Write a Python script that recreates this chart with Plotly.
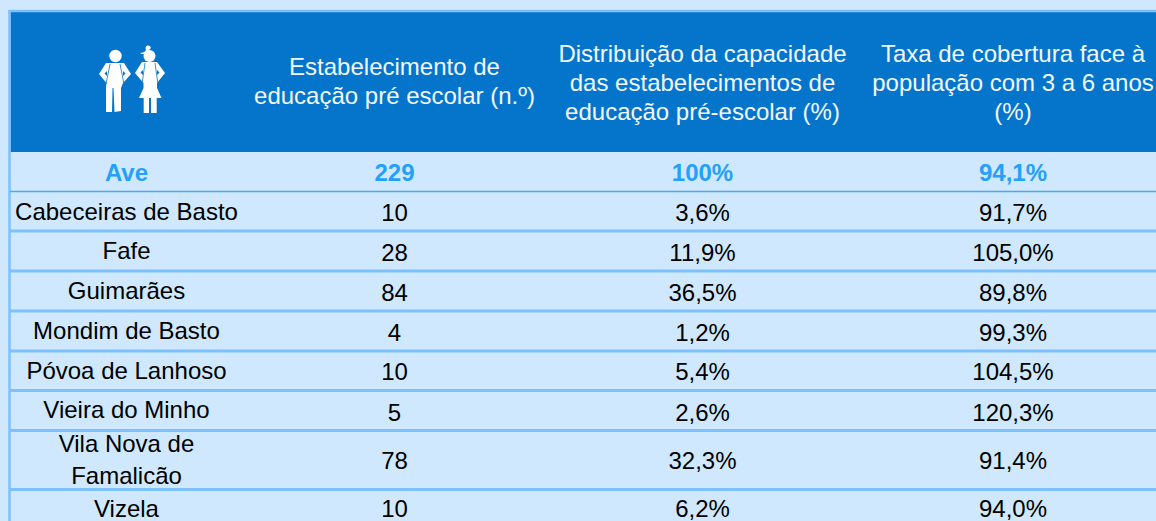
import plotly.graph_objects as go

BG = "#CFE8FD"
HEAD = "#0575CC"
LINE = "#7CC1FB"
ACC = "#24A0FA"
FS = 24

headers = ["Estabelecimento de<br>educação pré escolar (n.º)",
           "Distribuição da capacidade<br>das estabelecimentos de<br>educação pré-escolar (%)",
           "Taxa de cobertura face à<br>população com 3 a 6 anos<br>(%)"]
total_row = ["Ave", "229", "100%", "94,1%"]
territories = ["Cabeceiras de Basto", "Fafe", "Guimarães", "Mondim de Basto", "Póvoa de Lanhoso",
               "Vieira do Minho", "Vila Nova de<br>Famalicão", "Vizela"]
establishments = ["10", "28", "84", "4", "10", "5", "78", "10"]
capacity = ["3,6%", "11,9%", "36,5%", "1,2%", "5,4%", "2,6%", "32,3%", "6,2%"]
coverage = ["91,7%", "105,0%", "89,8%", "99,3%", "104,5%", "120,3%", "91,4%", "94,0%"]

# layout in pixels
col_x = [126.5, 394.5, 702.5, 1013]
head_line_y = [[69, 98], [56, 85, 114], [56, 85, 114]]
total_y = 174.5
name_y = [214, 253, 293, 333, 373, 412, 462, 511]
val_y = [215, 255, 295, 335, 374, 415, 463, 511]
row_lines = [231, 271, 311, 351, 390.5, 430.5, 489.5]

fig = go.Figure()
for cx, head, ys in zip(col_x[1:], headers, head_line_y):
    fig.add_trace(go.Scatter(x=[cx]*len(ys), y=ys, text=head.split("<br>"), mode="text",
                             textposition="middle center",
                             textfont=dict(family="Liberation Sans", size=FS, color="#F2F8FE"), hoverinfo="skip"))
fig.add_trace(go.Scatter(x=col_x, y=[total_y]*4, text=[f"<b>{t}</b>" for t in total_row], mode="text",
                         textposition="middle center",
                         textfont=dict(family="Liberation Sans", size=FS, color=ACC), hoverinfo="skip"))
fig.add_trace(go.Scatter(x=[col_x[0]]*8, y=name_y, text=territories, mode="text", textposition="middle center",
                         textfont=dict(family="Liberation Sans", size=FS, color="#000000"), hoverinfo="skip"))
for cx, vals in zip(col_x[1:], [establishments, capacity, coverage]):
    fig.add_trace(go.Scatter(x=[cx]*8, y=val_y, text=vals, mode="text", textposition="middle center",
                             textfont=dict(family="Liberation Sans", size=FS, color="#000000"), hoverinfo="skip"))

shapes = [
    dict(type="rect", x0=10.5, x1=1156, y0=12, y1=152, fillcolor=HEAD, line_width=0, layer="below"),
    dict(type="line", x0=8.5, x1=1156, y0=11, y1=11, line=dict(color=LINE, width=2.5), layer="below"),
    dict(type="line", x0=9.5, x1=9.5, y0=10, y1=521, line=dict(color=LINE, width=2.5), layer="below"),
    dict(type="line", x0=10, x1=1156, y0=191.5, y1=191.5, line=dict(color="#4DA8F0", width=1.5), layer="below"),
]
for y in row_lines:
    shapes.append(dict(type="line", x0=10, x1=1156, y0=y, y1=y, line=dict(color=LINE, width=3), layer="below"))

# pictogram
W = dict(fillcolor="white", line_width=0, layer="above")
H = dict(fillcolor=HEAD, line_width=0, layer="above")
def circ(cx, cy, r):
    return dict(type="circle", x0=cx-r, x1=cx+r, y0=cy-r, y1=cy+r, **W)
def poly(path, style=W):
    return dict(type="path", path=path, **style)
def strap(x0, y0, x1, y1):
    return dict(type="line", x0=x0, y0=y0, x1=x1, y1=y1, line=dict(color=HEAD, width=0.8), layer="above")
shapes += [
    # boy
    circ(115.5, 56, 6.2),
    poly("M106,63 L124,63 L131,74 L123,83 L121,88 L121,111 L114.5,112 L113.5,88 L112.5,88 L112,112 L106,112 L106,88 L106.5,83 L99,74 Z"),
    poly("M107,71 L104.5,73.5 L107,76 Z", H),
    poly("M123,71 L125.5,73.5 L123,76 Z", H),
    strap(110, 64, 106, 84),
    strap(120, 64, 124, 84),
    # girl
    circ(149.5, 56, 6),
    poly("M146,50 C144,45 150,44 151,48 L147,52 C145,54 142,55 140,53 C143,53 145,52 146,50 Z"),
    poly("M142,62 L157,62 L165,73 L157,83 L157,88 L161.5,98 L139,98 L143.5,88 L143.5,83 L135,73 Z"),
    poly("M143.7,98 L149,98 L149,113 L143.7,113 Z"),
    poly("M151,98 L156.7,98 L156.7,113 L151,113 Z"),
    poly("M143,70 L140.5,72.5 L143,75 Z", H),
    poly("M157,70 L159.5,72.5 L157,75 Z", H),
    strap(145, 63, 142, 84),
    strap(155, 63, 158, 84),
]

fig.update_layout(
    width=1156, height=521, margin=dict(l=0, r=0, t=0, b=0), showlegend=False,
    paper_bgcolor=BG, plot_bgcolor=BG, shapes=shapes,
    xaxis=dict(range=[0, 1156], visible=False, fixedrange=True),
    yaxis=dict(range=[521, 0], visible=False, fixedrange=True),
)
fig.write_html("out.html", config=dict(displayModeBar=False),
               post_script="document.body.style.margin='0';document.documentElement.style.overflow='hidden';")
